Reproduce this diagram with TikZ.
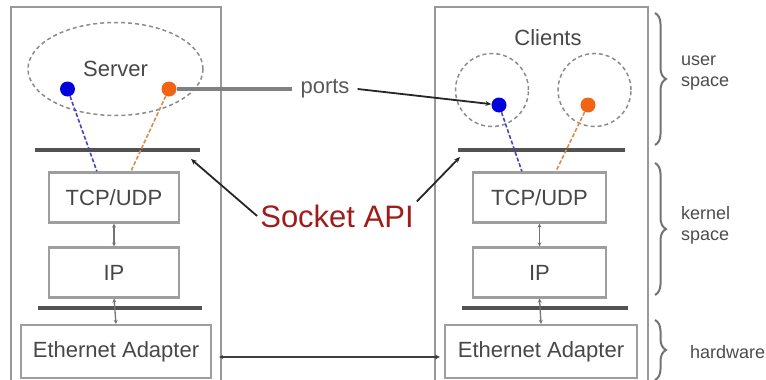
\documentclass[tikz,border=0pt]{standalone}
\usepackage{fontspec}
\setmainfont{Liberation Sans}
\usetikzlibrary{arrows.meta,decorations.pathreplacing,shapes.geometric}
\definecolor{apired}{RGB}{160,28,28}
\definecolor{dotblue}{RGB}{0,0,220}
\definecolor{dotorange}{RGB}{240,100,20}
\begin{document}
\begin{tikzpicture}[x=1pt,y=-1pt,
  outer/.style={draw=black!40, line width=2.5pt},
  layer/.style={draw=black!38, line width=2.2pt, inner sep=0pt, minimum width=130pt, minimum height=50pt, font=\fontsize{22}{24}\selectfont, text=black!72},
  bar/.style={draw=black!68, line width=4pt},
  lbl/.style={font=\fontsize{22}{24}\selectfont, text=black!72},
  side/.style={font=\fontsize{18}{21}\selectfont, text=black!70, align=left, anchor=west, inner sep=0pt},
  dot/.style={circle, inner sep=0pt, minimum size=15pt},
  proc/.style={draw=black!45, dash pattern=on 4pt off 3pt, line width=1.5pt, inner sep=0pt},
  bdash/.style={draw={rgb,255:red,70;green,70;blue,190}, dash pattern=on 4pt off 2pt, line width=1.6pt},
  odash/.style={draw={rgb,255:red,215;green,140;blue,80}, dash pattern=on 4pt off 2pt, line width=1.6pt},
  brc/.style={decorate, decoration={brace, amplitude=11pt}, draw=black!55, line width=2pt},
  vlink/.style={{Stealth[length=4pt,width=4pt]}-{Stealth[length=4pt,width=4pt]}, draw=black!55, line width=1.3pt},
  ptr/.style={-{Stealth[length=6pt,width=5pt]}, draw=black!85, line width=1.8pt}
]
\useasboundingbox (0,0) rectangle (766,380);

% outer host frames
\draw[outer] (11,395) -- (11,7) -- (221,7) -- (221,395);
\draw[outer] (435,395) -- (435,7) -- (648,7) -- (648,395);

% server side
\node[proc, ellipse, minimum width=175pt, minimum height=93pt, lbl] (srv) at (115.5,69) {Server};
\node[dot, fill=dotblue] (sblue) at (67.5,89) {};
\node[dot, fill=dotorange] (sorange) at (169,89) {};

\coordinate (lbarL) at (35,150);
\coordinate (lbarR) at (200,150);
\draw[bar] (lbarL) -- (lbarR);

\node[layer] (ltcp) at (114,197.5) {TCP/UDP};
\node[layer] (lip) at (114,272.5) {IP};
\coordinate (lbar2L) at (38,308);
\coordinate (lbar2R) at (202,308);
\draw[bar] (lbar2L) -- (lbar2R);
\node[layer, minimum width=190pt, minimum height=53pt] (leth) at (116,351.5) {Ethernet Adapter};

\draw[bdash] (sblue) -- ([xshift=49pt]ltcp.north west);
\draw[odash] (sorange) -- ([xshift=83pt]ltcp.north west);
\draw[vlink] (ltcp.south) -- (lip.north);
\draw[vlink] (lip.south) -- (leth.north);

% client side
\node[lbl] (clients) at (548,38) {Clients};
\node[proc, circle, minimum size=73pt] (c1) at (492,90) {};
\node[proc, circle, minimum size=73pt] (c2) at (594.5,90) {};
\node[dot, fill=dotblue] (cblue) at (499,105) {};
\node[dot, fill=dotorange] (corange) at (588,105) {};

\coordinate (rbarL) at (458,150);
\coordinate (rbarR) at (625,150);
\draw[bar] (rbarL) -- (rbarR);

\node[layer, minimum width=133pt] (rtcp) at (539.5,197.5) {TCP/UDP};
\node[layer, minimum width=133pt] (rip) at (539.5,272.5) {IP};
\coordinate (rbar2L) at (462,308);
\coordinate (rbar2R) at (628,308);
\draw[bar] (rbar2L) -- (rbar2R);
\node[layer, minimum width=192pt, minimum height=53pt] (reth) at (541,351.5) {Ethernet Adapter};

\draw[bdash] (cblue) -- ([xshift=50pt]rtcp.north west);
\draw[odash] (corange) -- ([xshift=84pt]rtcp.north west);
\draw[vlink] (rtcp.south) -- (rip.north);
\draw[vlink] (rip.south) -- (reth.north);

% ports
\node[lbl, text=black!65, inner sep=8pt] (ports) at (325,89) {ports};
\draw[draw=black!50, line width=4pt] (sorange) -- (ports.west);
\draw[ptr] (ports.east) -- (cblue);

% socket API
\node[font=\fontsize{31}{34}\selectfont, text=apired, inner sep=3pt] (sock) at (337,216) {Socket API};
\coordinate (lapi) at (191,159);
\coordinate (rapi) at (460,157);
\draw[ptr] (sock.west) -- (lapi);
\draw[ptr] (sock.north east) -- (rapi);

% ethernet link
\draw[{Stealth[length=4pt,width=4pt]}-{Stealth[length=5pt,width=5pt]}, draw=black!75, line width=1.6pt]
  ([shift={(7,5.5)}]leth.east) -- ([shift={(-4,5.5)}]reth.west);

% braces and layer labels
\draw[brc] (655,13) -- (655,145);
\draw[brc] (655,163) -- (655,295);
\draw[brc] (655,320) -- (655,380);
\node[side] (us) at (681,73) {user\\space};
\node[side] (ks) at (681,225) {kernel\\space};
\node[side] (hw) at (690,352) {hardware};
\end{tikzpicture}
\end{document}
